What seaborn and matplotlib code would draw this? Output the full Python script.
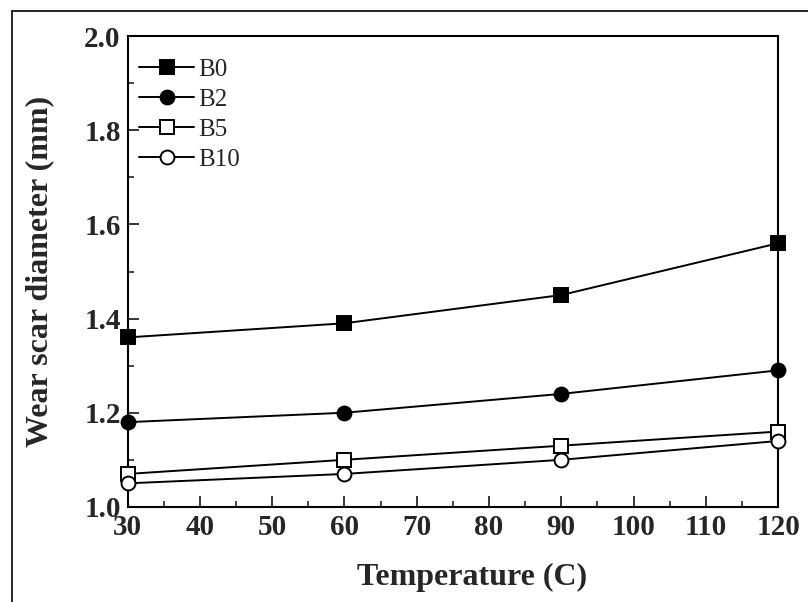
import matplotlib
matplotlib.use("Agg")
import matplotlib.pyplot as plt
import seaborn as sns
import pandas as pd
from matplotlib.lines import Line2D
from matplotlib.ticker import MultipleLocator, FormatStrFormatter

temperature = [30, 60, 90, 120]
b0 = [1.36, 1.39, 1.45, 1.56]
b2 = [1.18, 1.20, 1.24, 1.29]
b5 = [1.07, 1.10, 1.13, 1.16]
b10 = [1.05, 1.07, 1.10, 1.14]
series_names = ["B0", "B2", "B5", "B10"]
x_ticks = [30, 40, 50, 60, 70, 80, 90, 100, 110, 120]
y_ticks = [1.0, 1.2, 1.4, 1.6, 1.8, 2.0]

df = pd.DataFrame({
    "Temperature": temperature * 4,
    "Wear": b0 + b2 + b5 + b10,
    "Fuel": sum([[n] * len(temperature) for n in series_names], []),
})

sns.set_theme(style="ticks")
plt.rcParams["font.family"] = ["Liberation Serif", "DejaVu Serif"]

fig = plt.figure(figsize=(8.08, 6.02), dpi=100)
ax = fig.add_axes([0.158, 0.158, 0.805, 0.782])

markers = {"B0": "s", "B2": "o", "B5": "s", "B10": "o"}
faces = {"B0": "black", "B2": "black", "B5": "white", "B10": "white"}
for name in series_names:
    sub = df[df["Fuel"] == name]
    sns.lineplot(data=sub, x="Temperature", y="Wear", ax=ax, color="black",
                 linewidth=1.4, marker=markers[name], markersize=10,
                 markerfacecolor=faces[name], markeredgecolor="black",
                 markeredgewidth=1.4, label=name, clip_on=False, zorder=3)

ax.set_xlim(30, 120)
ax.set_ylim(1.0, 2.0)
ax.set_xticks(x_ticks)
ax.set_yticks(y_ticks)
ax.xaxis.set_minor_locator(MultipleLocator(5))
ax.yaxis.set_minor_locator(MultipleLocator(0.1))
ax.tick_params(which="major", direction="in", length=8, width=1.3,
               labelsize=21, pad=5)
ax.tick_params(which="minor", direction="in", length=4, width=1.2)
for lab in ax.get_xticklabels() + ax.get_yticklabels():
    lab.set_fontweight("bold")
ax.yaxis.set_major_formatter(FormatStrFormatter("%.1f"))
for sp in ax.spines.values():
    sp.set_linewidth(1.5)
    sp.set_color("black")

ax.set_xlabel("Temperature (C)", fontsize=23, fontweight="bold")
ax.set_ylabel("Wear scar diameter (mm)", fontsize=23, fontweight="bold")
ax.xaxis.set_label_coords(0.529, -0.15)
ax.yaxis.set_label_coords(-0.135, 0.5)
ax.xaxis.label.set_verticalalignment("center")
ax.yaxis.label.set_verticalalignment("center")

leg = ax.legend(loc="upper left", frameon=False, fontsize=18,
                handlelength=2.2, handletextpad=0.15, labelspacing=0.3,
                borderaxespad=0.2, bbox_to_anchor=(-0.005, 0.985))

# outer frame of the scanned figure
fig.add_artist(Line2D([12 / 808, 12 / 808], [0, 1 - 11 / 602],
                      transform=fig.transFigure, color="black", linewidth=1.2))
fig.add_artist(Line2D([12 / 808, 1], [1 - 11 / 602, 1 - 11 / 602],
                      transform=fig.transFigure, color="black", linewidth=1.2))

fig.savefig("out.png", dpi=100)
